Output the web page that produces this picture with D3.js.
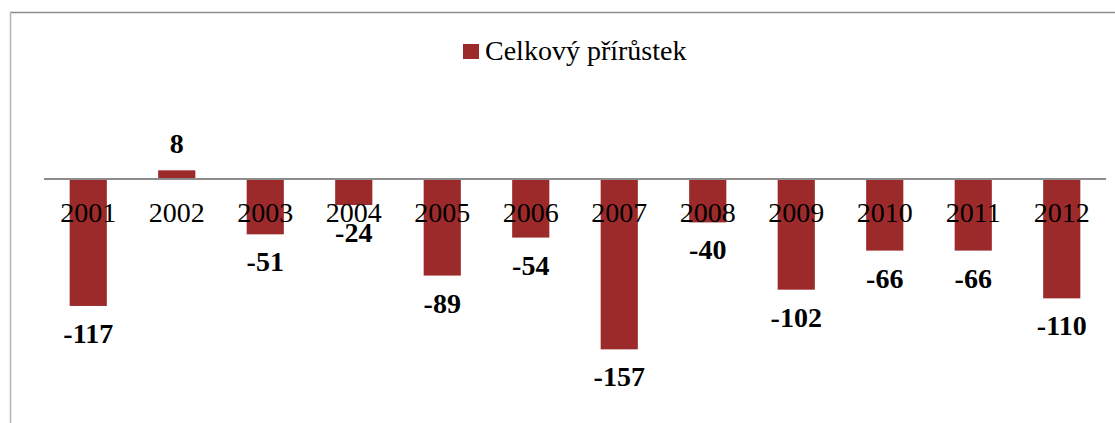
<!DOCTYPE html>
<html>
<head>
<meta charset="utf-8">
<script src="https://d3js.org/d3.v7.min.js"></script>
<style>
  body { margin: 0; background: #fff; }
  svg { display: block; }
</style>
</head>
<body>
<script>
// data
const years = ["2001", "2002", "2003", "2004", "2005", "2006", "2007", "2008", "2009", "2010", "2011", "2012"];
const growth = [-117, 8, -51, -24, -89, -54, -157, -40, -102, -66, -66, -110];
const seriesName = "Celkový přírůstek";

const width = 1115;
const height = 423;
const barColor = "#9d2a2b";
const font = "'Liberation Serif', 'Times New Roman', serif";

const svg = d3.select("body").append("svg")
    .attr("width", width)
    .attr("height", height);

// chart frame (bottom and right edge are cut off in the original)
svg.append("line")
    .attr("x1", 10).attr("x2", width).attr("y1", 12.5).attr("y2", 12.5)
    .attr("stroke", "#8c8c8c").attr("stroke-width", 1.5);
svg.append("line")
    .attr("x1", 10.5).attr("x2", 10.5).attr("y1", 12).attr("y2", height)
    .attr("stroke", "#b5b5b5").attr("stroke-width", 1.5);

const x = d3.scaleBand()
    .domain(years)
    .range([44, 1106])
    .paddingInner(0.58)
    .paddingOuter(0.29);

// 0 sits at y=179, about 1.085 px per unit
const y = d3.scaleLinear()
    .domain([-200, 20])
    .range([179 + 200 * 1.085, 179 - 20 * 1.085]);

const rows = years.map((yr, i) => ({ year: yr, value: growth[i] }));

svg.append("g").selectAll("rect")
    .data(rows)
    .enter()
    .append("rect")
    .attr("x", d => x(d.year))
    .attr("width", x.bandwidth())
    .attr("y", d => y(Math.max(0, d.value)))
    .attr("height", d => Math.abs(y(d.value) - y(0)))
    .attr("fill", barColor);

// zero line
svg.append("line")
    .attr("x1", 44).attr("x2", 1106)
    .attr("y1", y(0)).attr("y2", y(0))
    .attr("stroke", "#8c8c8c").attr("stroke-width", 2);

// category labels sit right under the zero line, over the bars
const xAxis = svg.append("g")
    .attr("transform", `translate(0, ${y(0)})`)
    .call(d3.axisBottom(x).tickSize(0).tickPadding(0));
xAxis.select(".domain").remove();
xAxis.selectAll("text")
    .attr("y", 43)
    .attr("dy", null)
    .style("font-family", font)
    .style("font-size", "28px")
    .attr("fill", "#000");

// value labels
svg.append("g").selectAll("text")
    .data(rows)
    .enter()
    .append("text")
    .attr("x", d => x(d.year) + x.bandwidth() / 2)
    .attr("y", d => d.value < 0 ? y(d.value) + 37 : y(d.value) - 17)
    .attr("text-anchor", "middle")
    .style("font-family", font)
    .style("font-size", "28px")
    .style("font-weight", "bold")
    .text(d => d.value);

// legend
const legend = svg.append("g");
legend.append("rect")
    .attr("x", 463).attr("y", 44)
    .attr("width", 16).attr("height", 15)
    .attr("fill", barColor);
legend.append("text")
    .attr("x", 485).attr("y", 60)
    .style("font-family", font)
    .style("font-size", "28px")
    .text(seriesName);
</script>
</body>
</html>
